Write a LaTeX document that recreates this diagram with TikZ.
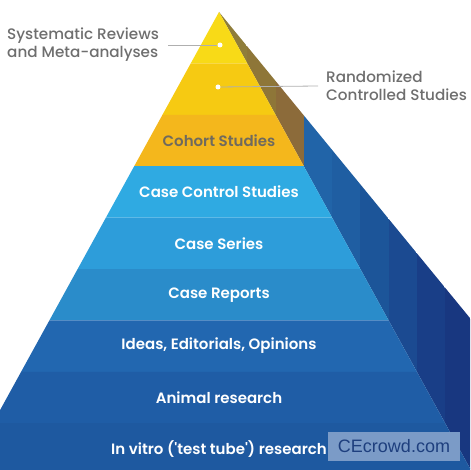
\documentclass[tikz,border=0pt]{standalone}
\usepackage{fontspec}
\setmainfont{Poppins}[BoldFont={Poppins SemiBold}]
\newfontfamily\medfont{Poppins Medium}
\newfontfamily\wmfont{Liberation Sans}
\definecolor{ySR}{HTML}{F8DA17}
\definecolor{yRC}{HTML}{F6CA12}
\definecolor{yCO}{HTML}{F4B71C}
\definecolor{bCC}{HTML}{2FAAE2}
\definecolor{bCS}{HTML}{2D9DDA}
\definecolor{bCR}{HTML}{2A8CCA}
\definecolor{bID}{HTML}{2267B0}
\definecolor{bAN}{HTML}{1F5DA6}
\definecolor{bIV}{HTML}{1E59A0}
\definecolor{s0}{HTML}{8F7D3A}
\definecolor{s1}{HTML}{8E7638}
\definecolor{s2}{HTML}{8C6B3A}
\definecolor{s3}{HTML}{2164A8}
\definecolor{s4}{HTML}{1F5EA2}
\definecolor{s5}{HTML}{1C5599}
\definecolor{s6}{HTML}{1B4A91}
\definecolor{s7}{HTML}{193E87}
\definecolor{s8}{HTML}{183780}
\definecolor{lbl}{HTML}{6E6E6E}
\definecolor{cotext}{HTML}{6F6A5E}
\definecolor{wmtext}{HTML}{1E3F7E}
\definecolor{wmbox}{HTML}{7B9BC7}
\begin{document}
\begin{tikzpicture}[x=1pt,y=-1pt,
  bandtext/.style={font=\bfseries\fontsize{15}{17}\selectfont, text=white, inner sep=0pt},
  sidelabel/.style={font=\medfont\fontsize{15.2}{18}\selectfont, text=lbl, align=left, inner sep=0pt},
  leader/.style={draw=lbl!55, line width=0.8pt},
  dotmark/.style={circle, fill=white, inner sep=0pt, minimum size=5pt}]
\useasboundingbox (0,0) rectangle (470,470);
\clip (0,0) rectangle (470,470);
% side face
\begin{scope}
  \clip (219,12) -- (549,612) -- (711,612) -- cycle;
  \fill[s0] (219,0) rectangle (247.27,620);
  \fill[s1] (247.27,0) rectangle (275.54,620);
  \fill[s2] (275.54,0) rectangle (303.81,620);
  \fill[s3] (303.81,0) rectangle (332.08,620);
  \fill[s4] (332.08,0) rectangle (360.35,620);
  \fill[s5] (360.35,0) rectangle (388.62,620);
  \fill[s6] (388.62,0) rectangle (416.89,620);
  \fill[s7] (416.89,0) rectangle (445.16,620);
  \fill[s8] (445.16,0) rectangle (720,620);
\end{scope}
% front face bands
\fill[ySR] (219,12) -- (247.27,63.4) -- (190.73,63.4) -- cycle;
\fill[yRC] (190.73,63.4) -- (247.27,63.4) -- (275.54,114.8) -- (162.46,114.8) -- cycle;
\fill[yCO] (162.46,114.8) -- (275.54,114.8) -- (303.81,166.2) -- (134.19,166.2) -- cycle;
\fill[bCC] (134.19,166.2) -- (303.81,166.2) -- (332.08,217.6) -- (105.92,217.6) -- cycle;
\fill[bCS] (105.92,217.6) -- (332.08,217.6) -- (360.35,269.0) -- (77.65,269.0) -- cycle;
\fill[bCR] (77.65,269.0) -- (360.35,269.0) -- (388.62,320.4) -- (49.38,320.4) -- cycle;
\fill[bID] (49.38,320.4) -- (388.62,320.4) -- (416.89,371.8) -- (21.11,371.8) -- cycle;
\fill[bAN] (21.11,371.8) -- (416.89,371.8) -- (445.16,423.2) -- (-7.16,423.2) -- cycle;
\fill[bIV] (-7.16,423.2) -- (445.16,423.2) -- (473.43,474.6) -- (-35.43,474.6) -- cycle;
% band texts
\node[bandtext, text=cotext] (co) at (219,141) {Cohort Studies};
\node[bandtext] (cc) at (219,192) {Case Control Studies};
\node[bandtext] (cs) at (219,243.5) {Case Series};
\node[bandtext] (cr) at (219,295) {Case Reports};
\node[bandtext] (id) at (219,346) {Ideas, Editorials, Opinions};
\node[bandtext] (an) at (219,397.5) {Animal research};
\node[bandtext] (iv) at (219,449) {In vitro (\textquotesingle test tube\textquotesingle) research};
% side labels
\node[dotmark] (d1) at (220,45) {};
\node[dotmark] (d2) at (218,87) {};
\node[sidelabel, anchor=west] (sr) at (7,45) {Systematic Reviews\\and Meta-analyses};
\node[sidelabel, anchor=west] (rc) at (326,86) {Randomized\\Controlled Studies};
\draw[leader] ([xshift=9pt]sr.east) -- (d1);
\draw[leader] (d2) -- ([xshift=-8pt]rc.west);
% watermark
\node[fill=wmbox, minimum width=132pt, minimum height=29pt, inner sep=0pt] (wm) at (394,446.5) {};
\node[text=wmtext, font=\wmfont\fontsize{18}{20}\selectfont, inner sep=0pt] (wmt) at (wm.center) {CEcrowd.com};
\end{tikzpicture}
\end{document}
